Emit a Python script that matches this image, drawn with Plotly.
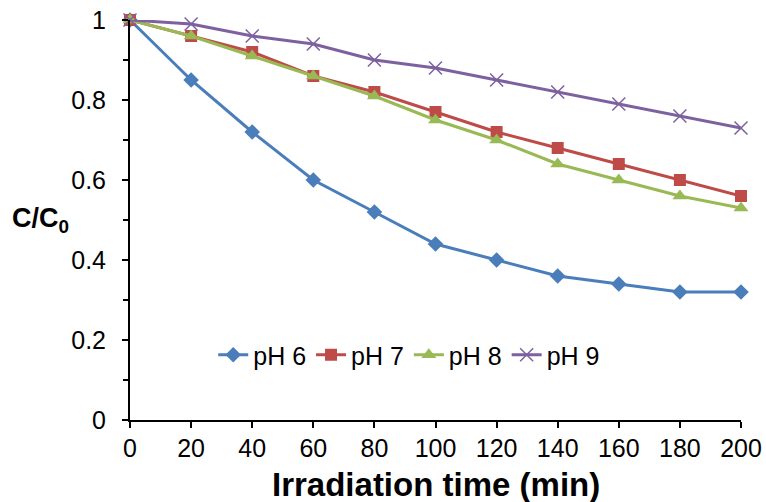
import plotly.graph_objects as go

# irradiation time (min)
time_min = [0, 20, 40, 60, 80, 100, 120, 140, 160, 180, 200]

# C/C0
ph6 = [1.00, 0.85, 0.72, 0.60, 0.52, 0.44, 0.40, 0.36, 0.34, 0.32, 0.32]
ph7 = [1.00, 0.96, 0.92, 0.86, 0.82, 0.77, 0.72, 0.68, 0.64, 0.60, 0.56]
ph8 = [1.00, 0.96, 0.91, 0.86, 0.81, 0.75, 0.70, 0.64, 0.60, 0.56, 0.53]
ph9 = [1.00, 0.99, 0.96, 0.94, 0.90, 0.88, 0.85, 0.82, 0.79, 0.76, 0.73]

series_names = ['pH 6', 'pH 7', 'pH 8', 'pH 9']
y_ticks = [0, 0.2, 0.4, 0.6, 0.8, 1.0]
y_tick_labels = ['0', '0.2', '0.4', '0.6', '0.8', '1']

FONT = 'Liberation Sans, Arial, sans-serif'

styles = [
    dict(color='#4A7EBB', symbol='diamond', size=12),
    dict(color='#BE4B48', symbol='square', size=12),
    dict(color='#98B954', symbol='triangle-up', size=13),
    dict(color='#7D60A0', symbol='x-thin', size=13),
]

fig = go.Figure()
for name, values, st in zip(series_names, [ph6, ph7, ph8, ph9], styles):
    marker = dict(symbol=st['symbol'], size=st['size'], color=st['color'])
    if st['symbol'] == 'x-thin':
        marker['line'] = dict(color=st['color'], width=1.5)
    fig.add_trace(go.Scatter(
        x=time_min, y=values, name=name, mode='lines+markers',
        line=dict(color=st['color'], width=3),
        marker=marker, cliponaxis=False,
    ))

fig.update_layout(
    width=766, height=502,
    margin=dict(l=130, r=25, t=20, b=82),
    paper_bgcolor='white', plot_bgcolor='white',
    font=dict(family=FONT, size=25, color='black'),
    showlegend=True,
    legend=dict(orientation='h', x=0.457, y=0.1625, xanchor='center', yanchor='middle',
                bgcolor='rgba(0,0,0,0)', font=dict(size=25), itemwidth=30),
    annotations=[
        dict(text='<b>C/C<sub>0</sub></b>', xref='paper', yref='paper',
             x=-0.197, y=0.5, xanchor='left', yanchor='middle',
             showarrow=False, font=dict(size=27, family=FONT)),
        dict(text='<b>Irradiation time (min)</b>', xref='paper', yref='paper',
             x=0.5, y=0, yshift=-64, xanchor='center', yanchor='middle',
             showarrow=False, font=dict(size=33, family=FONT)),
    ],
)

fig.update_xaxes(
    range=[0, 200], tickvals=time_min, showgrid=False, zeroline=False,
    showline=True, linecolor='black', linewidth=2, automargin=False,
    ticks='outside', ticklen=6, tickwidth=2, tickcolor='black',
    ticklabelstandoff=-1,
)
fig.update_yaxes(
    range=[0, 1], tickvals=y_ticks, ticktext=y_tick_labels,
    showgrid=False, zeroline=False, automargin=False,
    showline=True, linecolor='black', linewidth=2,
    ticks='outside', ticklen=6, tickwidth=2, tickcolor='black',
    ticklabelstandoff=11,
    minor=dict(dtick=0.1, ticks='outside', ticklen=5, tickwidth=2, tickcolor='black'),
)

# drop the default body margin so the figure sits at the window's top-left corner
fig.write_html('out.html', config={'displayModeBar': False},
               post_script="document.body.style.margin = '0';")
